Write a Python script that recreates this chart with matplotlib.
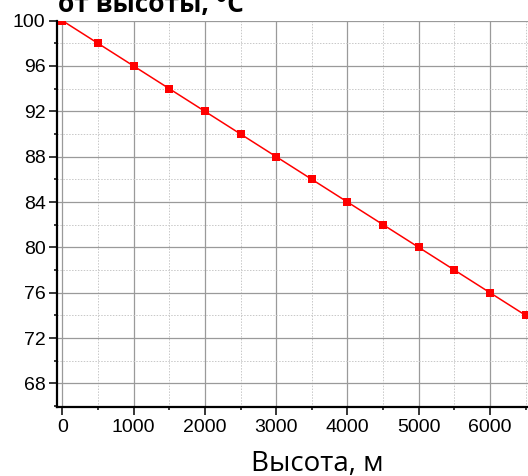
import matplotlib
matplotlib.use("Agg")
import matplotlib.pyplot as plt
from matplotlib.ticker import MultipleLocator

# heights (m) and boiling temperature (deg C)
heights = [0, 500, 1000, 1500, 2000, 2500, 3000, 3500, 4000, 4500, 5000, 5500, 6000, 6500]
temps = [100, 98, 96, 94, 92, 90, 88, 86, 84, 82, 80, 78, 76, 74]
xticks = [0, 1000, 2000, 3000, 4000, 5000, 6000]

title_tail = "от высоты, °С"
xlabel = "Высота, м"

fig = plt.figure(figsize=(5.28, 4.76), dpi=100)
# axes runs a bit past the right edge of the picture, like the cropped original
ax = fig.add_axes([0.1074, 0.1456, 0.970, 0.811])

ax.plot(heights, temps, color="red", linewidth=1.1, marker="s",
        markersize=5.5, markeredgewidth=0, zorder=3)

ax.set_xlim(-79, 7107)
ax.set_ylim(65.94, 100)
ax.set_xticks(xticks)
ax.xaxis.set_minor_locator(MultipleLocator(500))
ax.yaxis.set_major_locator(MultipleLocator(4))
ax.yaxis.set_minor_locator(MultipleLocator(2))

ax.grid(which="major", color="#9a9a9a", linewidth=0.9, linestyle="-")
ax.grid(which="minor", color="#c8c8c8", linewidth=0.7, linestyle=(0, (1.5, 1.5)))
ax.set_axisbelow(True)

for side in ["top", "right"]:
    ax.spines[side].set_visible(False)
for side in ["left", "bottom"]:
    ax.spines[side].set_linewidth(1.6)
    ax.spines[side].set_color("black")

ax.tick_params(which="major", direction="out", length=6, width=1.1,
               labelsize=14, pad=2, colors="black")
ax.tick_params(axis="x", which="major", pad=3)
ax.tick_params(which="minor", direction="out", length=2.5, width=1.1)
for lab in ax.get_xticklabels() + ax.get_yticklabels():
    lab.set_fontfamily("Liberation Sans")

# axis label sits right at the bottom edge, as in the original crop
fig.text(0.600, 0.010, xlabel, fontsize=20, fontfamily="Open Sans",
         ha="center", va="baseline")

# only the lower part of the title survives in the crop
fig.text(0.285, 0.974, title_tail, fontsize=19, fontweight="bold",
         fontfamily="Open Sans", ha="center", va="baseline")

fig.savefig("out.png", dpi=100)
